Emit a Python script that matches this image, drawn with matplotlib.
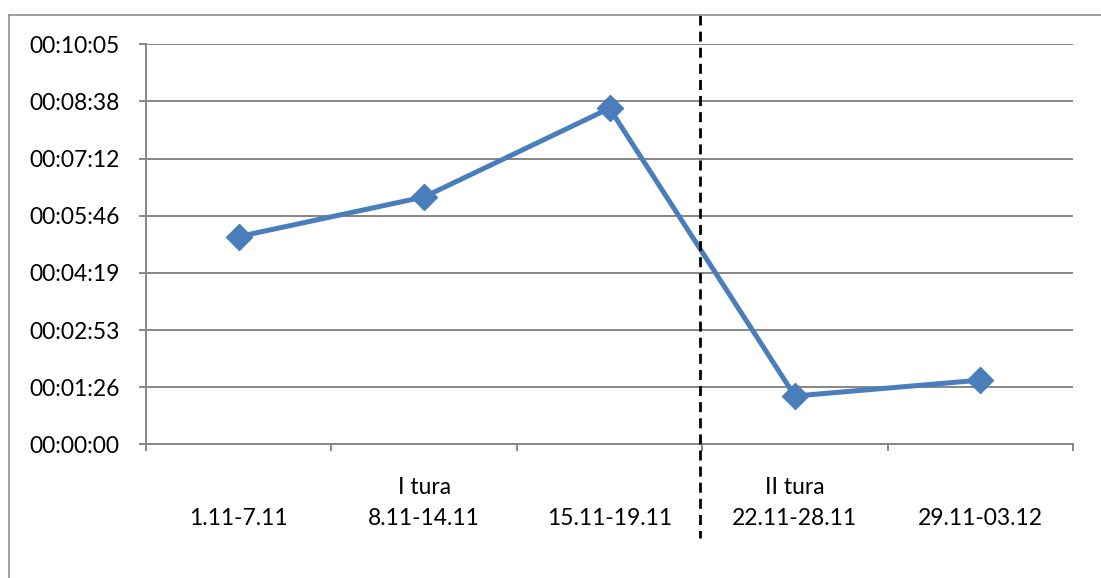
import numpy as np
import matplotlib

matplotlib.use("Agg")
import matplotlib.pyplot as plt
from matplotlib.ticker import FuncFormatter
from matplotlib.lines import Line2D
import matplotlib.transforms as mtransforms

plt.rcParams["font.family"] = ["Lato", "DejaVu Sans"]

# data
periods = ["1.11-7.11", "8.11-14.11", "15.11-19.11", "22.11-28.11", "29.11-03.12"]
times = ["00:05:14", "00:06:14", "00:08:28", "00:01:13", "00:01:37"]
rounds = ["I tura", "II tura"]
round_pos = [1, 3]
split_at = 2.49

secs = [int(h) * 3600 + int(m) * 60 + int(s) for h, m, s in (t.split(":") for t in times)]
x = np.arange(len(periods))

grey = "#868686"
blue = "#4A7EBB"


def hms(v, pos=None):
    v = int(round(v))
    return "%02d:%02d:%02d" % (v // 3600, (v % 3600) // 60, v % 60)


fig = plt.figure(figsize=(11.01, 5.78), dpi=100)
ax = fig.add_axes([146 / 1101, 1 - 444.3 / 578, 927 / 1101, 400 / 578])

step = 86.4  # 0.001 day
ax.set_ylim(0, 7 * step)
ax.set_yticks(np.arange(8) * step)
ax.yaxis.set_major_formatter(FuncFormatter(hms))
ax.grid(axis="y", color=grey, lw=1.4)
ax.set_axisbelow(True)

ax.plot(x, secs, color=blue, lw=3.6, marker="D", ms=13, zorder=3)

ax.set_xlim(-0.5, len(periods) - 0.5)
ax.set_xticks(x, periods)
ax.set_xticks(np.arange(len(periods) + 1) - 0.5, minor=True)
ax.tick_params(axis="x", which="major", length=0, pad=46, labelsize=16.5)
ax.tick_params(axis="x", which="minor", length=5, width=1.4, color=grey)
ax.tick_params(axis="y", length=5, width=1.4, color=grey, pad=14, labelsize=16.5)

for s in ["top", "right"]:
    ax.spines[s].set_visible(False)
for s in ["left", "bottom"]:
    ax.spines[s].set_color(grey)
    ax.spines[s].set_linewidth(1.4)

trans = mtransforms.blended_transform_factory(ax.transData, ax.transAxes)
for lab, p in zip(rounds, round_pos):
    ax.text(p, -0.107, lab, transform=trans, ha="center", va="center", fontsize=16.5)

ax.add_line(
    Line2D([split_at, split_at], [1.073, -0.234], transform=trans, color="black",
           lw=2, dashes=(3.6, 2.2), clip_on=False, zorder=4)
)

# outer chart frame
fig.add_artist(Line2D([9 / 1101, 9 / 1101], [0, 1 - 15 / 578], color=grey, lw=1.1))
fig.add_artist(Line2D([9 / 1101, 1], [1 - 15 / 578, 1 - 15 / 578], color=grey, lw=1.1))

fig.savefig("out.png", dpi=100)
plt.close(fig)
